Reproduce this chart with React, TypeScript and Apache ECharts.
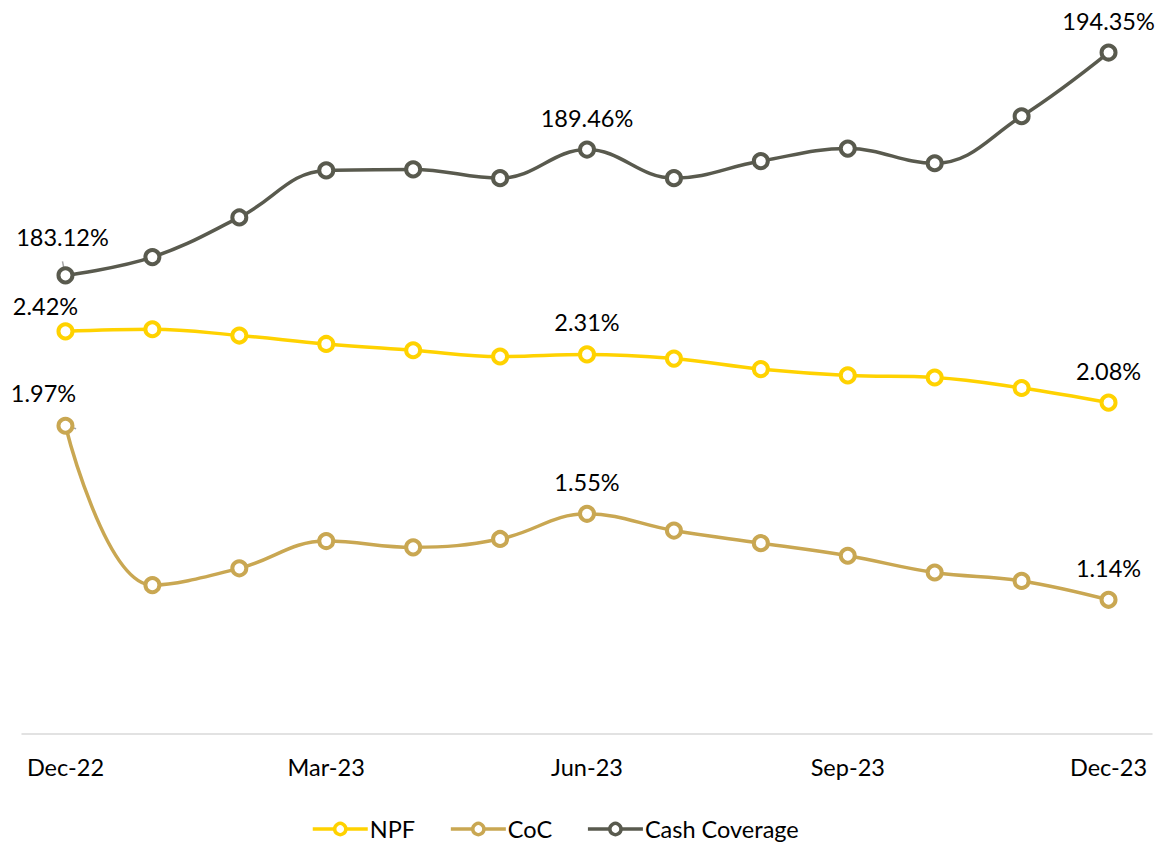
import React, { useEffect, useRef } from "react";
import * as echarts from "echarts";

const categories = ["Dec-22","Jan-23","Feb-23","Mar-23","Apr-23","May-23","Jun-23","Jul-23","Aug-23","Sep-23","Oct-23","Nov-23","Dec-23"];
const npf = [2.42, 2.43, 2.40, 2.36, 2.33, 2.30, 2.31, 2.29, 2.24, 2.21, 2.20, 2.15, 2.08];
const coc = [1.97, 1.21, 1.29, 1.42, 1.39, 1.43, 1.55, 1.47, 1.41, 1.35, 1.27, 1.23, 1.14];
const cashCoverage = [183.12, 184.04, 186.04, 188.41, 188.46, 188.02, 189.46, 188.02, 188.88, 189.51, 188.77, 191.14, 194.35];
const labelledIndices = [0, 6, 12];

const FONT = "Lato, 'Liberation Sans', sans-serif";
const FS = 23.5;

function buildData(values: number[], firstOffset: number[], leader: boolean) {
  return values.map((v, i) => {
    if (!labelledIndices.includes(i)) return v;
    const item: any = { value: v, label: { show: true } };
    if (i === 0) {
      item.label.offset = firstOffset;
      if (leader) item.labelLine = { show: true, lineStyle: { color: "#a6a6a6", width: 1.5 } };
    }
    return item;
  });
}

export default function App() {
  const ref = useRef<HTMLDivElement>(null);
  useEffect(() => {
    document.body.style.margin = "0";
    const chart = echarts.init(ref.current!, null, { renderer: "svg" });
    const mk = (name: string, color: string, data: any[], yAxisIndex: number) => ({
      name,
      type: "line",
      yAxisIndex,
      smooth: 0.4,
      data,
      symbol: "circle",
      symbolSize: 14,
      showAllSymbol: true,
      lineStyle: { color, width: 3.5 },
      itemStyle: { color: "#ffffff", borderColor: color, borderWidth: 4 },
      label: {
        show: false,
        position: "top",
        distance: 11,
        formatter: (p: any) => p.value.toFixed(2) + "%",
        fontFamily: FONT,
        fontSize: FS,
        color: "#000",
      },
      emphasis: { disabled: true },
    });
    chart.setOption({
      animation: false,
      textStyle: { fontFamily: FONT },
      grid: { left: 22, right: 6, top: 0, bottom: 111 },
      legend: {
        top: 812,
        left: 306,
        itemWidth: 55,
        itemHeight: 14,
        itemGap: 34,
        lineStyle: { width: 3.5 },
        itemStyle: { borderWidth: 3.5 },
        textStyle: { fontFamily: FONT, fontSize: FS, color: "#000", padding: [0, 0, 0, -3] },
        data: ["NPF", "CoC", "Cash Coverage"],
      },
      xAxis: {
        type: "category",
        data: categories,
        boundaryGap: true,
        axisLine: { lineStyle: { color: "#d9d9d9", width: 1.5 } },
        axisTick: { show: false },
        axisLabel: { interval: 2, margin: 21, fontFamily: FONT, fontSize: FS, color: "#000" },
      },
      yAxis: [
        { type: "value", min: 0.5, max: 4.0, show: false, splitLine: { show: false } },
        { type: "value", min: 160, max: 197, show: false, splitLine: { show: false } },
      ],
      series: [
        mk("NPF", "#FFD200", buildData(npf, [-20, 7], false), 0),
        mk("CoC", "#C9A752", buildData(coc, [-22, -1], true), 0),
        mk("Cash Coverage", "#595A4E", buildData(cashCoverage, [-3, -6], true), 1),
      ],
    });
    return () => chart.dispose();
  }, []);
  return <div ref={ref} style={{ width: 1158, height: 845 }} />;
}
